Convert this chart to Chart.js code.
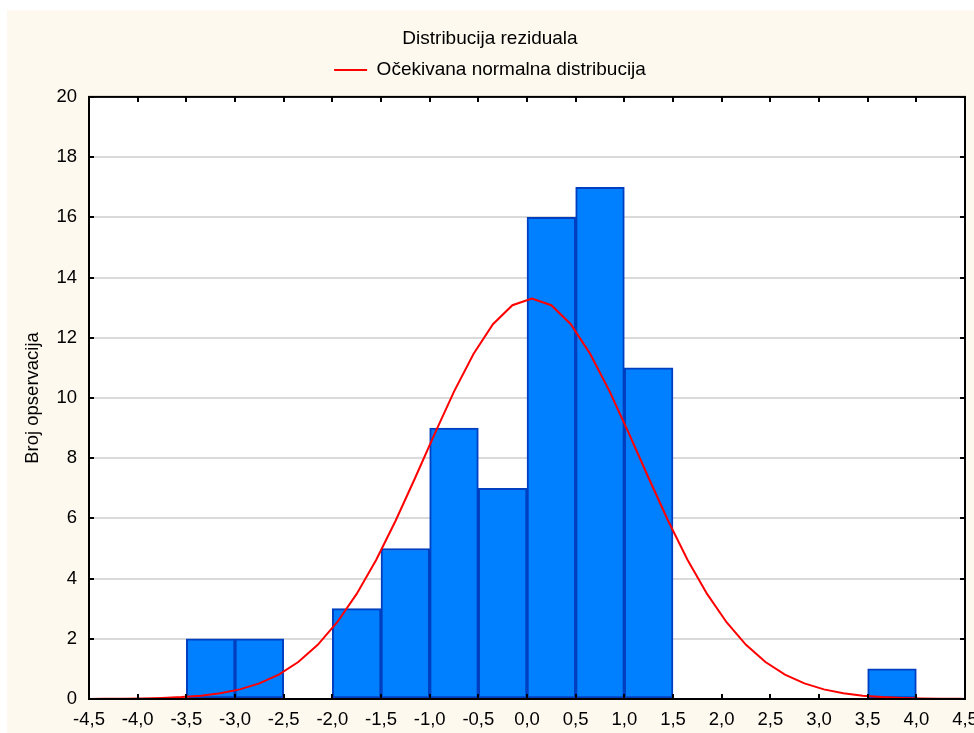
<!DOCTYPE html>
<html><head><meta charset="utf-8">
<script src="https://cdn.jsdelivr.net/npm/chart.js@4.4.1/dist/chart.umd.min.js"></script>
<style>html,body{margin:0;padding:0;background:#fff;}#wrap{width:974px;height:733px;}</style>
</head><body><div id="wrap"><canvas id="c" width="974" height="733"></canvas></div>
<script>
// Histogram bins (width 0.5, from -4.5 to 4.5)
const binCenters = [-4.25,-3.75,-3.25,-2.75,-2.25,-1.75,-1.25,-0.75,-0.25,0.25,0.75,1.25,1.75,2.25,2.75,3.25,3.75,4.25];
const binCounts  = [null,null,2,2,null,3,5,9,7,16,17,11,null,null,null,null,1,null];

// Expected normal distribution curve
const curveX = [-4.5,-4.35,-4.15,-3.95,-3.75,-3.55,-3.35,-3.15,-2.95,-2.75,-2.55,-2.35,-2.15,-1.95,-1.75,-1.55,-1.35,-1.15,-0.95,-0.75,-0.55,-0.35,-0.15,0.05,0.25,0.45,0.65,0.85,1.05,1.25,1.45,1.65,1.85,2.05,2.25,2.45,2.65,2.85,3.05,3.25,3.45,3.65,3.85,4.05,4.25,4.45,4.5];
const curveY = [0.002,0.0045,0.009,0.018,0.034,0.063,0.11,0.19,0.32,0.52,0.81,1.23,1.80,2.55,3.49,4.62,5.92,7.34,8.80,10.21,11.46,12.45,13.08,13.3,13.08,12.45,11.46,10.21,8.80,7.34,5.92,4.62,3.49,2.55,1.80,1.23,0.81,0.52,0.32,0.19,0.11,0.063,0.034,0.018,0.009,0.0045,0.004];

const xTickLabels = ['-4,5','-4,0','-3,5','-3,0','-2,5','-2,0','-1,5','-1,0','-0,5','0,0','0,5','1,0','1,5','2,0','2,5','3,0','3,5','4,0','4,5'];
const yTickLabels = ['0','2','4','6','8','10','12','14','16','18','20'];

const titleText = 'Distribucija reziduala';
const legendText = 'Očekivana normalna distribucija';
const yTitle = 'Broj opservacija';

const FONT = 'Liberation Sans, Arial, sans-serif';

const bgPlugin = {
  id: 'bg',
  beforeDraw(chart) {
    const ctx = chart.ctx, a = chart.chartArea;
    ctx.save();
    ctx.fillStyle = '#ffffff';
    ctx.fillRect(0, 0, chart.width, chart.height);
    ctx.fillStyle = '#fdf9ef';
    ctx.fillRect(7, 10, chart.width - 7, chart.height - 10);
    ctx.fillStyle = '#ffffff';
    ctx.fillRect(a.left, a.top, a.right - a.left, a.bottom - a.top);
    ctx.restore();
  }
};

const framePlugin = {
  id: 'frame',
  afterDatasetsDraw(chart) {
    const ctx = chart.ctx, a = chart.chartArea;
    const ys = chart.scales.y, xs = chart.scales.xl;
    ctx.save();
    ctx.strokeStyle = '#000';
    ctx.lineWidth = 2;
    ctx.strokeRect(a.left, a.top, a.right - a.left, a.bottom - a.top);
    ctx.beginPath();
    ys.ticks.forEach(t => {
      const p = Math.round(ys.getPixelForValue(t.value));
      ctx.moveTo(a.left, p); ctx.lineTo(a.left + 5, p);
      ctx.moveTo(a.right, p); ctx.lineTo(a.right - 5, p);
    });
    xs.ticks.forEach(t => {
      const p = Math.round(xs.getPixelForValue(t.value));
      ctx.moveTo(p, a.bottom); ctx.lineTo(p, a.bottom - 5);
      ctx.moveTo(p, a.top); ctx.lineTo(p, a.top + 5);
    });
    ctx.stroke();
    ctx.restore();
  }
};

new Chart(document.getElementById('c'), {
  data: {
    labels: binCenters.map(String),
    datasets: [
      {
        type: 'bar',
        label: 'bins',
        data: binCounts,
        xAxisID: 'x',
        yAxisID: 'y',
        backgroundColor: '#007fff',
        borderColor: '#0040c0',
        borderWidth: 2,
        borderSkipped: false,
        grouped: false,
        barPercentage: 1,
        categoryPercentage: 1,
        order: 2
      },
      {
        type: 'line',
        label: legendText,
        data: curveX.map((x, i) => ({x: x, y: curveY[i]})),
        xAxisID: 'xl',
        yAxisID: 'y',
        borderColor: '#ff0000',
        backgroundColor: '#ff0000',
        borderWidth: 2,
        pointRadius: 0,
        tension: 0,
        fill: false,
        order: 1
      }
    ]
  },
  options: {
    responsive: false,
    animation: false,
    devicePixelRatio: 1,
    layout: { padding: { left: 15, right: 9, top: 10, bottom: 0 } },
    plugins: {
      tooltip: { enabled: false },
      title: {
        display: true,
        text: titleText,
        color: '#000',
        font: { family: FONT, size: 19, weight: 'normal' },
        padding: { top: 17, bottom: 0.6 }
      },
      legend: {
        display: true,
        position: 'top',
        labels: {
          filter: (item) => item.text === legendText,
          usePointStyle: true,
          pointStyle: 'line',
          pointStyleWidth: 33,
          color: '#000',
          padding: 10,
          font: { family: FONT, size: 19 }
        }
      }
    },
    scales: {
      x: {
        type: 'category',
        display: false,
        offset: true,
        grid: { display: false }
      },
      xl: {
        type: 'linear',
        position: 'bottom',
        min: -4.5,
        max: 4.5,
        grid: { display: false, drawTicks: false },
        border: { display: false },
        ticks: {
          stepSize: 0.5,
          autoSkip: false,
          maxRotation: 0,
          padding: 10,
          color: '#000',
          font: { family: FONT, size: 18.5 },
          callback: (v, i) => xTickLabels[i]
        },
        afterFit(s) { s.height = 34; s.paddingLeft = 0; s.paddingRight = 0; }
      },
      xt: {
        type: 'linear',
        position: 'top',
        min: -4.5,
        max: 4.5,
        grid: { display: false, drawTicks: false },
        border: { display: false },
        ticks: { display: false },
        afterFit(s) { s.height = 7.5; s.paddingLeft = 0; s.paddingRight = 0; }
      },
      y: {
        type: 'linear',
        min: 0,
        max: 20,
        grid: { color: '#dadada', lineWidth: 2, drawTicks: false },
        border: { display: false },
        ticks: {
          stepSize: 2,
          padding: 12,
          color: '#000',
          font: { family: FONT, size: 18.5 },
          callback: (v, i) => yTickLabels[i]
        },
        title: {
          display: true,
          text: yTitle,
          color: '#000',
          font: { family: FONT, size: 18.5 },
          padding: { top: 6.6, bottom: 0 }
        },
        afterFit(s) { s.width = 74; s.paddingTop = 0; s.paddingBottom = 0; }
      }
    }
  },
  plugins: [bgPlugin, framePlugin]
});
</script></body></html>
